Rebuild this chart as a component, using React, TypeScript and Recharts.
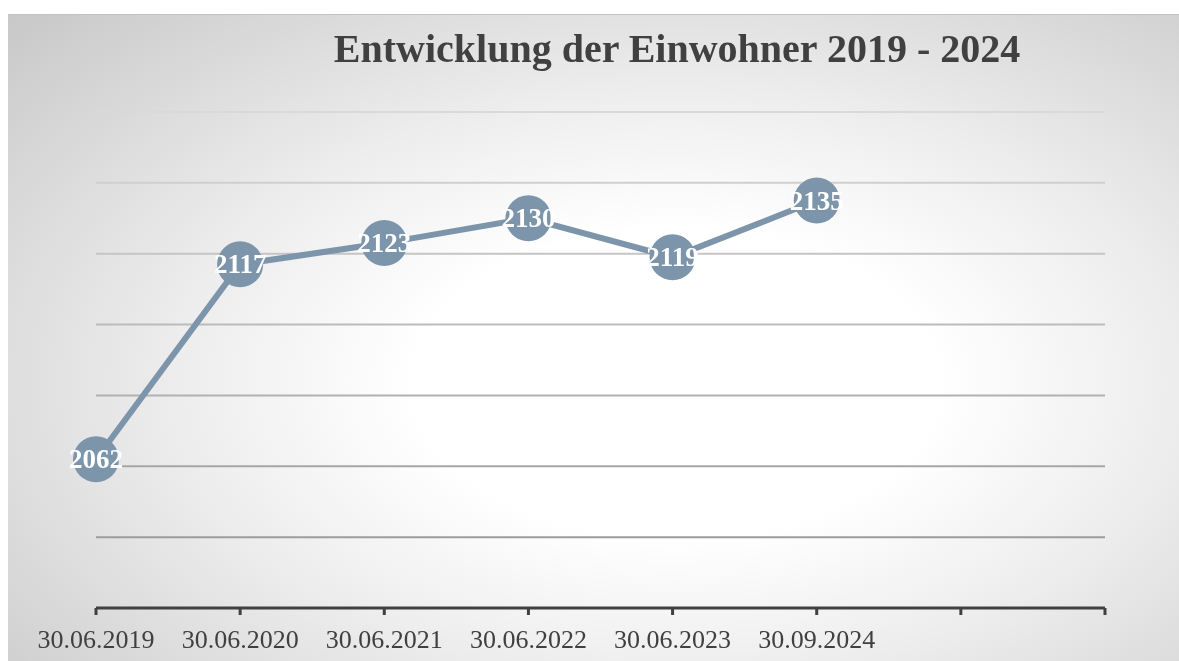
import React from 'react';
import { LineChart, Line, XAxis, YAxis, CartesianGrid, LabelList } from 'recharts';

const categories = ['30.06.2019', '30.06.2020', '30.06.2021', '30.06.2022', '30.06.2023', '30.09.2024', '', ' '];
const residents: (number | null)[] = [2062, 2117, 2123, 2130, 2119, 2135, null, null];
const yTicks = [2020, 2040, 2060, 2080, 2100, 2120, 2140, 2160];
const title = 'Entwicklung der Einwohner 2019 - 2024';

const data = categories.map((c, i) => ({ key: 'c' + i, label: c, v: residents[i] }));

const SERIF = '"Liberation Serif", "DejaVu Serif", serif';
const LINE = '#7d95ab';

const gridLine = (props: any) => {
  const { x1, x2, y1, y2, key } = props;
  const t = Math.max(0, Math.min(1, (y1 - 98) / (524 - 98)));
  const c = Math.round(0xd9 - t * (0xd9 - 0x9c));
  const hex = c.toString(16).padStart(2, '0');
  return <line key={key} x1={x1} x2={x2} y1={y1} y2={y2} stroke={`#${hex}${hex}${hex}`} strokeWidth={2} />;
};

const Dot = (props: any) => {
  const { cx, cy, value } = props;
  if (value == null || cx == null || cy == null) return null;
  return <circle cx={cx} cy={cy} r={23} fill={LINE} />;
};

const DataLabel = (props: any) => {
  const { x, y, value } = props;
  if (value == null) return null;
  return (
    <text x={x} y={y} dy={9} textAnchor="middle" fill="#ffffff" fontFamily={SERIF} fontWeight="bold" fontSize={27}>
      {value}
    </text>
  );
};

export default function App() {
  return (
    <div
      style={{
        position: 'fixed',
        left: 8,
        top: 14,
        width: 1171,
        height: 647,
        background: 'radial-gradient(ellipse 80% 85% at 57% 57%, #ffffff 0%, #ffffff 28%, #eeeeee 52%, #c6c6c6 100%)',
        borderTop: '1px solid #c2c2c2',
        boxSizing: 'border-box',
        overflow: 'hidden',
      }}
    >
      <div
        style={{
          position: 'absolute',
          left: 269,
          width: 800,
          top: 14,
          textAlign: 'center',
          fontFamily: SERIF,
          fontWeight: 'bold',
          fontSize: 40,
          lineHeight: 1,
          color: '#404040',
          whiteSpace: 'nowrap',
        }}
      >
        {title}
      </div>
      <LineChart width={1171} height={646} data={data} margin={{ top: 97, left: 88, right: 74, bottom: 0 }}>
        <CartesianGrid vertical={false} horizontal={gridLine} />
        <YAxis hide domain={[2020, 2160]} ticks={yTicks} type="number" />
        <XAxis
          dataKey="key"
          height={53}
          tickFormatter={(k: string) => data.find((d) => d.key === k)?.label ?? ''}
          axisLine={{ stroke: '#404040', strokeWidth: 3 }}
          tickLine={{ stroke: '#404040', strokeWidth: 3 }}
          tickSize={7}
          tickMargin={15}
          tick={{ fill: '#404040', fontFamily: SERIF, fontSize: 26 }}
          interval={0}
        />
        <Line
          dataKey="v"
          stroke={LINE}
          strokeWidth={6}
          dot={<Dot />}
          activeDot={false}
          isAnimationActive={false}
        >
          <LabelList dataKey="v" content={<DataLabel />} />
        </Line>
      </LineChart>
    </div>
  );
}
